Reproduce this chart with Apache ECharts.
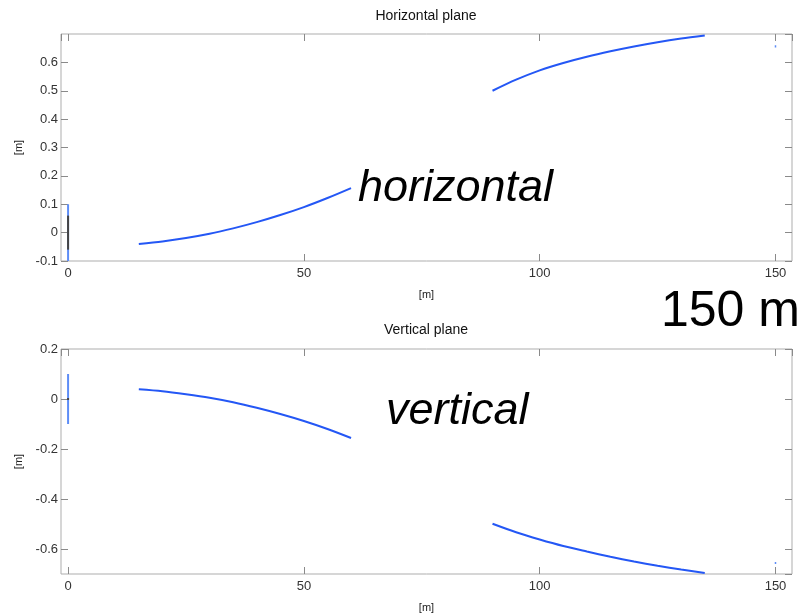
<!DOCTYPE html>
<html>
<head>
<meta charset="utf-8">
<script src="https://cdn.jsdelivr.net/npm/echarts@6/dist/echarts.min.js"></script>
<style>
html,body{margin:0;padding:0;background:#fff;}
#c{width:798px;height:615px;}
</style>
</head>
<body>
<div id="c"></div>
<script>
// ---- data ----
const titles = ['Horizontal plane', 'Vertical plane'];
const axisName = '[m]';
const nearX = [15, 20, 25, 30, 35, 40, 45, 50, 55, 60];
const farX  = [90, 95, 100, 105, 110, 115, 120, 125, 130, 135];
// horizontal plane
const hNear = [-0.040, -0.031, -0.019, -0.004, 0.015, 0.037, 0.062, 0.090, 0.122, 0.157];
const hFar  = [0.500, 0.539, 0.572, 0.598, 0.620, 0.639, 0.656, 0.671, 0.684, 0.695];
const hStartBlue = [[0, -0.1], [0, 0.1]];
const hStartDark = [[0, -0.06], [0, 0.06]];
const hEndDot = [[150, 0.652], [150, 0.660]];
// vertical plane
const vNear = [0.039, 0.031, 0.019, 0.005, -0.013, -0.035, -0.060, -0.088, -0.120, -0.156];
const vFar  = [-0.499, -0.533, -0.562, -0.588, -0.610, -0.631, -0.650, -0.667, -0.682, -0.696];
const vStartBlue = [[0, -0.1], [0, 0.1]];
const vStartDark = [[0, -0.004], [0, 0.004]];
const vEndDot = [[150, -0.652], [150, -0.660]];
// axis ranges / ticks
const xRange = [-1.5, 153.5], xStep = 50;
const hRange = [-0.1, 0.7], hStep = 0.1;
const vRange = [-0.7, 0.2], vStep = 0.2;
// annotations
const notes = ['horizontal', 'vertical', '150 m'];

const pairs = (xs, ys) => xs.map((x, i) => [x, ys[i]]);

const FONT = 'Liberation Sans, Arial, Helvetica, sans-serif';
const BOX = '#adadad';
const BLUE = '#2457f5';
const LBLUE = '#5d8df7';

const grids = [
  {left: 61, right: 6, top: 34, height: 227, show: true, borderColor: BOX, borderWidth: 1},
  {left: 61, right: 6, top: 349, height: 225, show: true, borderColor: BOX, borderWidth: 1}
];

const tickStyle = {color: '#8a8a8a'};

function xMain(gi) {
  return {
    type: 'value', gridIndex: gi, position: 'bottom',
    min: xRange[0], max: xRange[1], minInterval: xStep, maxInterval: xStep,
    name: axisName, nameLocation: 'middle', nameGap: 28,
    nameTextStyle: {fontFamily: FONT, fontSize: 11, color: '#222'},
    axisLine: {show: false, onZero: false},
    axisTick: {show: true, inside: true, length: 7, lineStyle: tickStyle},
    axisLabel: {showMinLabel: false, showMaxLabel: false, fontFamily: FONT, fontSize: 13, color: '#333', margin: 6},
    splitLine: {show: false}
  };
}
function xTop(gi) {
  return {
    type: 'value', gridIndex: gi, position: 'top',
    min: xRange[0], max: xRange[1], minInterval: xStep, maxInterval: xStep,
    axisLine: {show: false, onZero: false},
    axisTick: {show: true, inside: true, length: 7, lineStyle: tickStyle},
    axisLabel: {show: false}, splitLine: {show: false}
  };
}
function yMain(gi, r, step) {
  return {
    type: 'value', gridIndex: gi, position: 'left',
    min: r[0], max: r[1], minInterval: step, maxInterval: step,
    name: axisName, nameLocation: 'middle', nameGap: 32,
    nameTextStyle: {fontFamily: FONT, fontSize: 11, color: '#222'},
    axisLine: {show: false, onZero: false},
    axisTick: {show: true, inside: true, length: 7, lineStyle: tickStyle},
    axisLabel: {showMinLabel: gi === 0, showMaxLabel: gi === 1, fontFamily: FONT, fontSize: 13, color: '#333', margin: 3,
      formatter: v => String(Math.round(v * 10) / 10)},
    splitLine: {show: false}
  };
}
function yRight(gi, r, step) {
  return {
    type: 'value', gridIndex: gi, position: 'right',
    min: r[0], max: r[1], minInterval: step, maxInterval: step,
    axisLine: {show: false, onZero: false},
    axisTick: {show: true, inside: true, length: 7, lineStyle: tickStyle},
    axisLabel: {show: false}, splitLine: {show: false}
  };
}

function line(data, xi, yi, color, width, smooth) {
  return {
    type: 'line', xAxisIndex: xi, yAxisIndex: yi, data: data,
    showSymbol: false, symbol: 'none', smooth: smooth ? 0.3 : false,
    lineStyle: {color: color, width: width}, silent: true, animation: false, z: 3
  };
}

const chart = echarts.init(document.getElementById('c'), null, {renderer: 'canvas'});
chart.setOption({
  animation: false,
  backgroundColor: '#fff',
  title: [
    {text: titles[0], left: 426, top: 9, padding: 0, textAlign: 'center',
     textStyle: {fontFamily: FONT, fontSize: 14, fontWeight: 'normal', color: '#111'}},
    {text: titles[1], left: 426, top: 323, padding: 0, textAlign: 'center',
     textStyle: {fontFamily: FONT, fontSize: 14, fontWeight: 'normal', color: '#111'}}
  ],
  grid: grids,
  xAxis: [xMain(0), xTop(0), xMain(1), xTop(1)],
  yAxis: [yMain(0, hRange, hStep), yRight(0, hRange, hStep), yMain(1, vRange, vStep), yRight(1, vRange, vStep)],
  series: [
    line(hStartBlue, 0, 0, LBLUE, 2, false),
    line(hStartDark, 0, 0, '#444', 2, false),
    line(pairs(nearX, hNear), 0, 0, BLUE, 2, true),
    line(pairs(farX, hFar), 0, 0, BLUE, 2, true),
    line(hEndDot, 0, 0, LBLUE, 1.5, false),
    line(vStartBlue, 2, 2, LBLUE, 2, false),
    line(vStartDark, 2, 2, '#444', 2, false),
    line(pairs(nearX, vNear), 2, 2, BLUE, 2, true),
    line(pairs(farX, vFar), 2, 2, BLUE, 2, true),
    line(vEndDot, 2, 2, LBLUE, 1.5, false)
  ],
  graphic: [
    {type: 'text', x: 358, y: 188, z: 10, style: {text: notes[0], fontFamily: FONT, fontStyle: 'italic', fontSize: 45, fill: '#000', verticalAlign: 'middle'}},
    {type: 'text', x: 386, y: 411, z: 10, style: {text: notes[1], fontFamily: FONT, fontStyle: 'italic', fontSize: 45, fill: '#000', verticalAlign: 'middle'}},
    {type: 'text', x: 661, y: 312, z: 10, style: {text: notes[2], fontFamily: FONT, fontSize: 50, fill: '#000', verticalAlign: 'middle'}}
  ]
});
</script>
</body>
</html>
